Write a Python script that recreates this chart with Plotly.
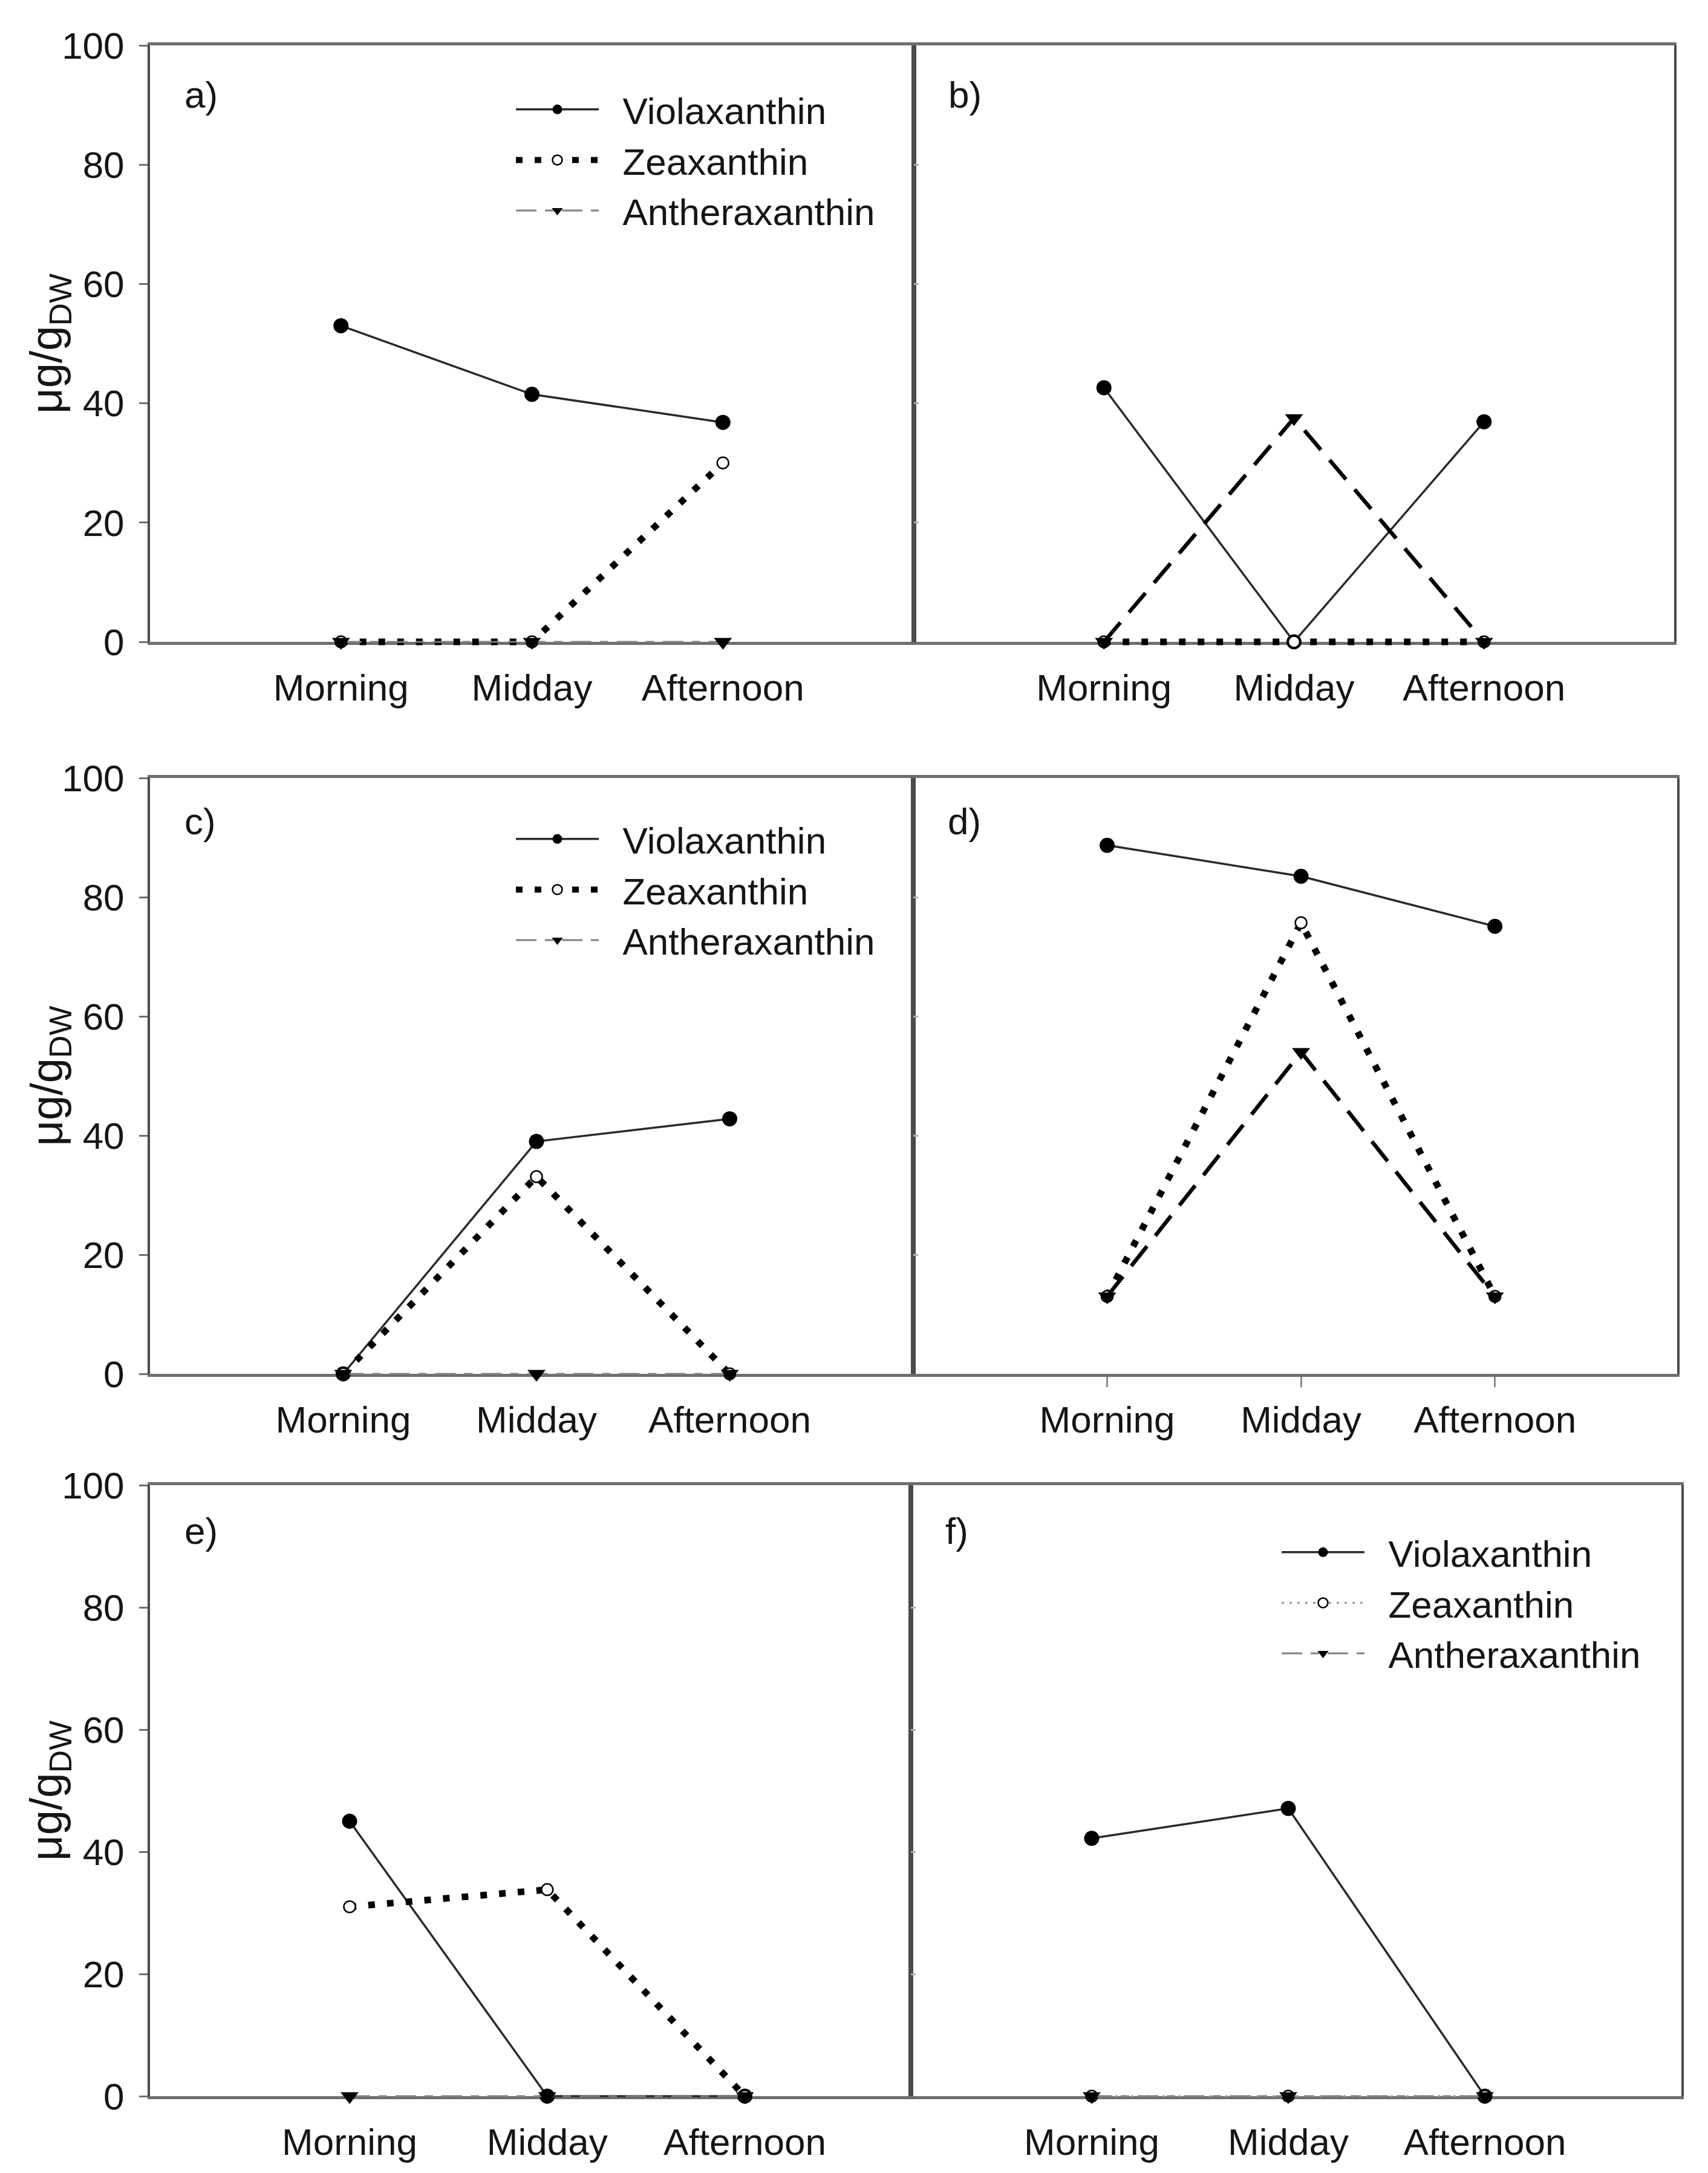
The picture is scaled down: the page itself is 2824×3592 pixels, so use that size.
import plotly.graph_objects as go

W, H = 2824, 3592
FONT = "Liberation Sans, Arial, sans-serif"
TXT = "#151515"

# ---------------- data ----------------
times = ["Morning", "Midday", "Afternoon"]
series_names = ["Violaxanthin", "Zeaxanthin", "Antheraxanthin"]
panel_labels = ["a)", "b)", "c)", "d)", "e)", "f)"]
y_ticks = [0, 20, 40, 60, 80, 100]
y_title = "μg/g<sub>DW</sub>"

viola_a = [53.0, 41.5, 36.8]
zea_a = [0.0, 0.0, 30.0]
anth_a = [0.0, 0.0, 0.0]

viola_b = [42.6, 0.0, 36.9]
zea_b = [0.0, 0.0, 0.0]
anth_b = [0.0, 37.5, 0.0]

viola_c = [0.0, 39.0, 42.8]
zea_c = [0.0, 33.1, 0.0]
anth_c = [0.0, 0.0, 0.0]

viola_d = [88.7, 83.5, 75.1]
zea_d = [13.0, 75.7, 13.0]
anth_d = [13.0, 54.0, 13.0]

viola_e = [45.0, 0.0, 0.0]
zea_e = [31.0, 33.8, 0.0]
anth_e = [0.0, 0.0, 0.0]

viola_f = [42.2, 47.1, 0.0]
zea_f = [0.0, 0.0, 0.0]
anth_f = [0.0, 0.0, 0.0]

# ---------------- layout geometry (pixels) ----------------
panel_geom = [
    # (x0, x1, top, bottom)
    (240, 1503, 67, 1053),
    (1503, 2760, 67, 1053),
    (240, 1502, 1278, 2263),
    (1502, 2765, 1278, 2263),
    (240, 1498, 2447, 3457),
    (1498, 2772, 2447, 3457),
]
x_ranges = [[-1, 3], [-1, 3], [-1, 2.95], [-1, 2.94], [-1.01, 2.84], [-0.92, 3.0]]
label_dy = [81, 81, 71, 71, 75, 75]
EXT = 16  # extra px around each data layer so marks on the frame are not cut

viola_line = dict(color="#2a2a2a", width=3.5)
viola_marker = dict(symbol="circle", size=25, color="black", line=dict(width=0))
zea_thick_line = dict(color="black", width=11, dash="11px,20px")
zea_thin_line = dict(color="#9a9a9a", width=3, dash="4px,9px")
zea_marker = dict(symbol="circle", size=19, color="white", line=dict(color="black", width=2.5))
anth_thick_line = dict(color="black", width=6.5, dash="42px,22px")
anth_thin_line = dict(color="#808080", width=3, dash="34px,14px,14px,14px")
anth_marker = dict(symbol="triangle-down", size=26, color="black", line=dict(width=0))

panel_data = [
    (viola_a, zea_a, anth_a, zea_thick_line, anth_thin_line, "legend"),
    (viola_b, zea_b, anth_b, zea_thick_line, anth_thick_line, None),
    (viola_c, zea_c, anth_c, zea_thick_line, anth_thin_line, "legend2"),
    (viola_d, zea_d, anth_d, zea_thick_line, anth_thick_line, None),
    (viola_e, zea_e, anth_e, zea_thick_line, anth_thin_line, None),
    (viola_f, zea_f, anth_f, zea_thin_line, anth_thin_line, "legend3"),
]

PAD = "\u00a0\u00a0"  # gap between legend sample and its text

fig = go.Figure()

# frame subplots: an invisible copy of the series sets up the category axes
for i, (v, z, a, zl, al, leg) in enumerate(panel_data):
    n = "" if i == 0 else str(i + 1)
    fig.add_trace(go.Scatter(x=times, y=v, xaxis="x" + n, yaxis="y" + n, mode="markers",
                             marker=dict(opacity=0, size=1), hoverinfo="skip",
                             showlegend=False))

# data layer subplots
for i, (v, z, a, zl, al, leg) in enumerate(panel_data):
    k = str(i + 7)
    common = dict(xaxis="x" + k, yaxis="y" + k, cliponaxis=False, mode="lines+markers",
                  showlegend=leg is not None)
    if leg:
        common["legend"] = leg
    fig.add_trace(go.Scatter(x=times, y=v, name=PAD + series_names[0], line=viola_line,
                             marker=viola_marker, **common))
    fig.add_trace(go.Scatter(x=times, y=z, name=PAD + series_names[1], line=zl,
                             marker=zea_marker, **common))
    fig.add_trace(go.Scatter(x=times, y=a, name=PAD + series_names[2], line=al,
                             marker=anth_marker, **common))

layout = dict(
    width=W, height=H,
    margin=dict(l=0, r=0, t=0, b=0, pad=0),
    paper_bgcolor="white", plot_bgcolor="rgba(0,0,0,0)",
    font=dict(family=FONT, size=62, color=TXT),
    annotations=[],
)

for i, (x0, x1, top, bot) in enumerate(panel_geom):
    n = "" if i == 0 else str(i + 1)
    k = str(i + 7)
    is_left = i % 2 == 0
    ph = bot - top
    xd = [x0 / W, x1 / W]
    yd = [1 - bot / H, 1 - top / H]
    # visible frame / axes
    layout["xaxis" + n] = dict(
        domain=xd, anchor="y" + n, type="category", range=x_ranges[i],
        showline=True, linecolor="#6e6e6e", linewidth=5, mirror=True,
        ticks="outside", ticklen=17, tickwidth=3,
        tickcolor="#8a8a8a" if i == 3 else "rgba(0,0,0,0)",
        showgrid=False, zeroline=False, automargin=False,
        tickfont=dict(size=62, color=TXT), ticklabelstandoff=1,
    )
    layout["yaxis" + n] = dict(
        domain=yd, anchor="x" + n, range=[0, 100], tickvals=y_ticks,
        showline=True, linecolor="#4a4a4a", linewidth=4, mirror=True,
        ticks="outside" if is_left else "inside", ticklen=14 if is_left else 8,
        tickwidth=3, tickcolor="#6e6e6e" if is_left else "#b0b0b0",
        showticklabels=is_left, showgrid=False, zeroline=False,
        automargin=False, tickfont=dict(size=62, color=TXT), ticklabelstandoff=12,
    )
    # data layer: same scale, slightly larger clip area
    layout["xaxis" + k] = dict(
        domain=xd, anchor="y" + k, type="category", range=x_ranges[i],
        visible=False, showgrid=False, zeroline=False, automargin=False,
    )
    layout["yaxis" + k] = dict(
        domain=[1 - (bot + EXT) / H, 1 - (top - EXT) / H], anchor="x" + k,
        range=[-EXT / ph * 100, 100 + EXT / ph * 100],
        visible=False, showgrid=False, zeroline=False, automargin=False,
    )
    layout["annotations"].append(dict(
        text=panel_labels[i], xref="paper", yref="paper",
        x=(x0 + 55) / W, y=1 - (top + label_dy[i]) / H,
        xanchor="left", yanchor="middle", showarrow=False,
        font=dict(size=62, color=TXT, family=FONT),
    ))
    if is_left:
        layout["annotations"].append(dict(
            text=y_title, xref="paper", yref="paper",
            x=74 / W, y=1 - (top + bot) / 2 / H, textangle=-90,
            xanchor="center", yanchor="middle", showarrow=False,
            font=dict(size=74, color=TXT, family=FONT),
        ))

legend_common = dict(bgcolor="rgba(0,0,0,0)", borderwidth=0, itemwidth=137,
                     font=dict(size=62, color=TXT, family=FONT),
                     xanchor="left", yanchor="top", tracegroupgap=0)
layout["legend"] = dict(x=840 / W, y=1 - 126 / H, **legend_common)
layout["legend2"] = dict(x=840 / W, y=1 - 1332 / H, **legend_common)
layout["legend3"] = dict(x=2106 / W, y=1 - 2511 / H, **legend_common)

fig.update_layout(**layout)
fig.write_html("out.html")
